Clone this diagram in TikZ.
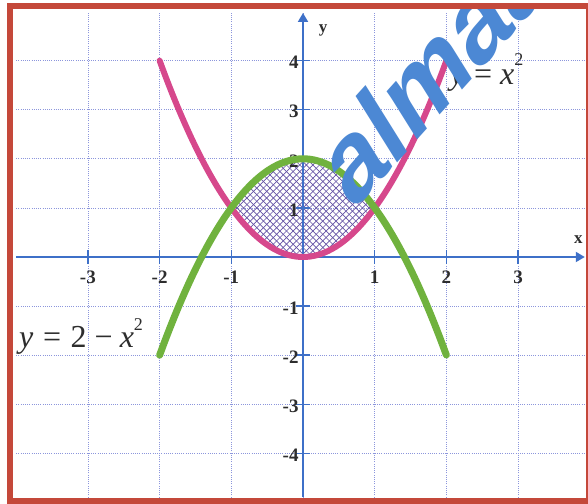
\documentclass[tikz,border=0pt]{standalone}
\usepackage{fontspec}
\setmainfont{Liberation Serif}
\newfontfamily\wmfont{Liberation Sans}
\usetikzlibrary{arrows.meta}
\definecolor{framered}{RGB}{196,72,58}
\definecolor{gridblue}{RGB}{140,150,220}
\definecolor{axisblue}{RGB}{62,112,200}
\definecolor{curvepink}{RGB}{214,72,140}
\definecolor{curvegreen}{RGB}{112,178,62}
\definecolor{hatchpurple}{RGB}{100,82,165}
\definecolor{wmblue}{RGB}{76,136,212}
\definecolor{labelgray}{RGB}{45,45,45}
\begin{document}
\begin{tikzpicture}[
  gridline/.style={gridblue, line width=0.7pt, dash pattern=on 1pt off 1.2pt},
  axisline/.style={axisblue, line width=1.8pt},
  tickline/.style={axisblue, line width=1.4pt},
  pinkcurve/.style={curvepink, line width=6pt, line cap=round},
  greencurve/.style={curvegreen, line width=7pt, line cap=round},
  hatchline/.style={hatchpurple, line width=0.65pt},
  ticklabel/.style={font=\fontsize{19}{19}\selectfont\bfseries, text=labelgray, inner sep=0pt},
  axislabel/.style={font=\fontsize{17}{17}\selectfont\bfseries, text=labelgray, inner sep=0pt},
  eqlabel/.style={font=\fontsize{32}{32}\selectfont, text=labelgray, inner sep=0pt, anchor=base west},
]
\useasboundingbox (0,0) rectangle (588pt,503pt);
\fill[white] (0,0) rectangle (588pt,503pt);
\begin{scope}[shift={(303pt,246pt)}, x=71.7pt, y=49.1pt]
  % grid
  \foreach \i in {-3,...,3} \draw[gridline] (\i,-4.9) -- (\i,4.99);
  \foreach \j in {-4,...,-1,1,2,3,4} \draw[gridline] (-4,\j) -- (3.93,\j);
  % hatched region between the curves
  \begin{scope}
    \clip plot[domain=-1:1, samples=60] (\x,{2-\x*\x}) -- plot[domain=1:-1, samples=60] (\x,{\x*\x}) -- cycle;
    \coordinate (hc) at (0,1);
    \foreach \k in {-26,...,26} {
      \draw[hatchline] ([xshift=\k*6.6pt-100pt, yshift=-100pt]hc) -- ++(200pt,200pt);
      \draw[hatchline] ([xshift=\k*6.6pt+100pt, yshift=-100pt]hc) -- ++(-200pt,200pt);
    }
  \end{scope}
  % axes
  \coordinate (xstart) at (-4,0);
  \coordinate (xend) at (3.93,0);
  \coordinate (ystart) at (0,-4.89);
  \coordinate (yend) at (0,4.97);
  \draw[axisline, -{Triangle[length=9pt,width=10pt]}] (xstart) -- (xend);
  \draw[axisline, -{Triangle[length=9pt,width=10pt]}] (ystart) -- (yend);
  % ticks
  \foreach \i in {-3,...,-1,1,2,3} \draw[tickline] (\i,-0.14) -- (\i,0.14);
  \foreach \j in {-4,...,-1,1,2,3,4} \draw[tickline] (-0.098,\j) -- (0.098,\j);
  % tick labels
  \foreach \i in {-3,...,-1,1,2,3} \node[ticklabel] (xl\i) at (\i,-0.42) {\i};
  \foreach \j in {-4,...,-1,1,2,3,4} \node[ticklabel, anchor=east] (yl\j) at (-0.06,{\j-0.04}) {\j};
  \node[axislabel] (xlab) at (3.84,0.35) {x};
  \node[axislabel] (ylab) at (0.28,4.62) {y};
  % curves
  \draw[pinkcurve] plot[domain=-2:2, samples=81, smooth] (\x,{\x*\x});
  \draw[greencurve] plot[domain=-2:2, samples=81, smooth] (\x,{2-\x*\x});
\end{scope}
% equation labels
\node[eqlabel] (eqa) at (450pt,418pt) {\textit{y}\hspace{0.3em}=\hspace{0.25em}\textit{x}\raisebox{0.6em}{\fontsize{18}{18}\selectfont 2}};
\node[eqlabel] (eqb) at (19pt,155pt) {\textit{y}\hspace{0.3em}=\hspace{0.3em}2\hspace{0.25em}−\hspace{0.22em}\textit{x}\raisebox{0.55em}{\fontsize{18}{18}\selectfont 2}};
% watermark
\begin{scope}
  \clip (13pt,6pt) rectangle (586pt,493pt);
  \begin{scope}[shift={(352pt,290pt)}, cm={0.669,0.743,-0.53,0.848,(0,0)}]
    \node[anchor=base west, transform shape, inner sep=0pt, text=wmblue, font=\wmfont\bfseries\fontsize{108}{108}\selectfont] (wm) at (0,0) {almaany};
  \end{scope}
\end{scope}
% frame
\draw[framered, line width=6pt] (10pt,497pt) rectangle (589pt,2pt);
\end{tikzpicture}
\end{document}
